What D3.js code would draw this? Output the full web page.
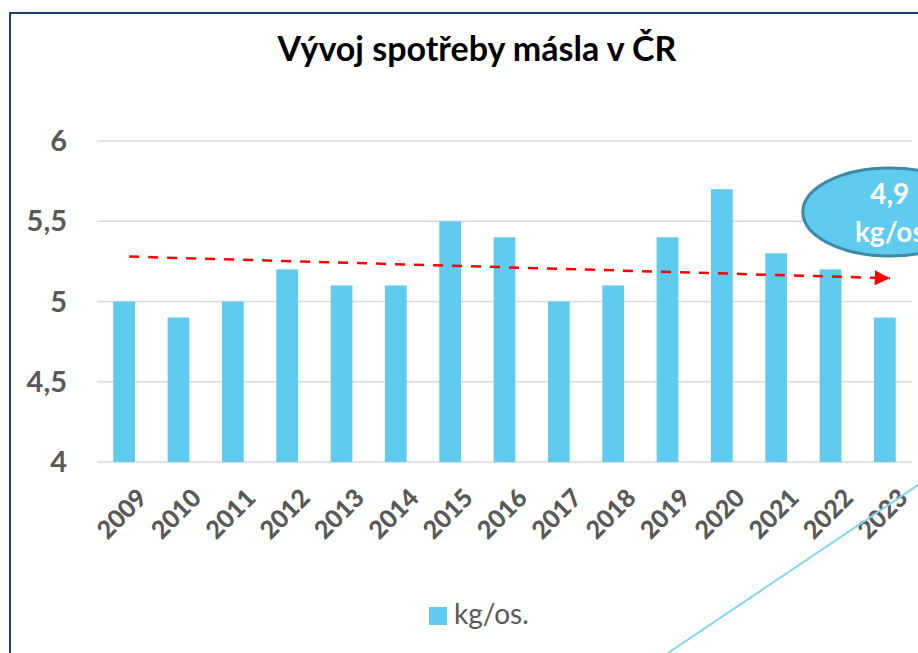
<!DOCTYPE html>
<meta charset="utf-8">
<style>
body { margin: 0; background: #fff; }
svg { display: block; font-family: Lato, "Open Sans", sans-serif; }
.grid line { stroke: #d9d9d9; stroke-width: 1.5px; }
.ylab { fill: #595959; font-weight: bold; font-size: 29px; }
.xlab { fill: #595959; font-weight: 900; font-size: 25px; }
</style>
<svg></svg>
<script src="https://d3js.org/d3.v7.min.js"></script>
<script>

var years = ["2009","2010","2011","2012","2013","2014","2015","2016","2017","2018","2019","2020","2021","2022","2023"];
var values = [5.0, 4.9, 5.0, 5.2, 5.1, 5.1, 5.5, 5.4, 5.0, 5.1, 5.4, 5.7, 5.3, 5.2, 4.9];
var yTicks = [4, 4.5, 5, 5.5, 6];
// hand drawn trend arrow, start and end value
var trendYears = ["2009", "2023"];
var trendValues = [5.28, 5.145];
var calloutText = ["4,9", "kg/os"];

var width = 918,
    height = 653;

var svg = d3.select("svg")
    .attr("width", width)
    .attr("height", height);

var x = d3.scaleBand()
    .domain(years)
    .range([97, 912])
    .paddingInner(0.6)
    .paddingOuter(0.3);

var y = d3.scaleLinear()
    .domain([4, 6])
    .range([462, 141]);

var fmt = function(d) { return String(d).replace(".", ","); };

// outer frame
svg.append("rect")
    .attr("x", 10).attr("y", 13)
    .attr("width", 1000).attr("height", 1000)
    .attr("fill", "none")
    .attr("stroke", "#1f3b78")
    .attr("stroke-width", 2);

svg.append("text")
    .attr("x", 477).attr("y", 61)
    .attr("text-anchor", "middle")
    .attr("font-size", 34)
    .attr("font-weight", "bold")
    .attr("fill", "#000")
    .text("Vývoj spotřeby másla v ČR");

// gridlines
svg.append("g").attr("class", "grid")
  .selectAll("line")
    .data(yTicks)
  .enter().append("line")
    .attr("x1", 97).attr("x2", 912)
    .attr("y1", function(d) { return y(d); })
    .attr("y2", function(d) { return y(d); });

svg.append("g")
  .selectAll("text")
    .data(yTicks)
  .enter().append("text")
    .attr("class", "ylab")
    .attr("x", 67)
    .attr("y", function(d) { return y(d); })
    .attr("dy", "0.35em")
    .attr("text-anchor", "end")
    .text(fmt);

// bars
svg.append("g")
  .selectAll("rect")
    .data(values)
  .enter().append("rect")
    .attr("x", function(d, i) { return x(years[i]); })
    .attr("y", function(d) { return y(d); })
    .attr("width", x.bandwidth())
    .attr("height", function(d) { return y(4) - y(d); })
    .attr("fill", "#5ecbef");

// year labels, rotated
svg.append("g")
  .selectAll("text")
    .data(years)
  .enter().append("text")
    .attr("class", "xlab")
    .attr("transform", function(d) {
      return "translate(" + (x(d) + x.bandwidth() / 2 + 12) + ",487) rotate(-45)";
    })
    .attr("text-anchor", "end")
    .attr("dy", "0.7em")
    .text(function(d) { return d; });

// trend arrow
svg.append("defs").append("marker")
    .attr("id", "arrow")
    .attr("viewBox", "0 0 10 10")
    .attr("refX", 10).attr("refY", 5)
    .attr("markerUnits", "userSpaceOnUse")
    .attr("markerWidth", 16).attr("markerHeight", 15)
    .attr("orient", "auto")
  .append("path")
    .attr("d", "M0,0L10,5L0,10Z")
    .attr("fill", "#ff0000");

var c = x.bandwidth() / 2;
svg.append("line")
    .attr("x1", x(trendYears[0]) + c + 5)
    .attr("y1", y(trendValues[0]))
    .attr("x2", x(trendYears[1]) + c + 5)
    .attr("y2", y(trendValues[1]))
    .attr("stroke", "#ff0000")
    .attr("stroke-width", 2.5)
    .attr("stroke-dasharray", "10,9")
    .attr("marker-end", "url(#arrow)");

// callout ellipse
var cx = x("2023") + c + 5, cy = 212;
svg.append("ellipse")
    .attr("cx", cx).attr("cy", cy)
    .attr("rx", 87).attr("ry", 44)
    .attr("fill", "#5ecbef")
    .attr("stroke", "#3c8aa6")
    .attr("stroke-width", 3);

svg.append("g")
  .selectAll("text")
    .data(calloutText)
  .enter().append("text")
    .attr("x", cx)
    .attr("y", function(d, i) { return 204 + i * 38; })
    .attr("text-anchor", "middle")
    .attr("font-size", 28)
    .attr("font-weight", "bold")
    .attr("fill", "#fff")
    .text(function(d) { return d; });

// decorative diagonal line
svg.append("line")
    .attr("x1", 668).attr("y1", 653)
    .attr("x2", 930).attr("y2", 477)
    .attr("stroke", "#86d4ec")
    .attr("stroke-width", 2);

// legend
svg.append("rect")
    .attr("x", 429).attr("y", 607)
    .attr("width", 18).attr("height", 18)
    .attr("fill", "#5ecbef");

svg.append("text")
    .attr("x", 454).attr("y", 624)
    .attr("font-size", 28)
    .attr("fill", "#595959")
    .text("kg/os.");

</script>
